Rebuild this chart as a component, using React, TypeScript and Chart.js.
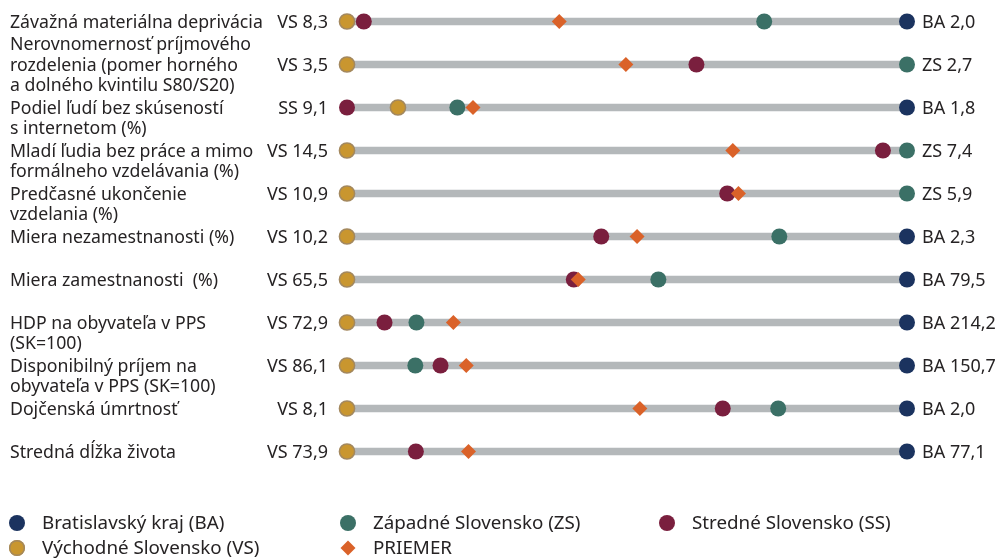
import React, { useEffect, useRef } from "react";
import { Chart, registerables } from "chart.js";

Chart.register(...registerables);

const categories: string[][] = [
  ["Závažná materiálna deprivácia"],
  ["Nerovnomernosť príjmového", "rozdelenia (pomer horného", "a dolného kvintilu S80/S20)"],
  ["Podiel ľudí bez skúseností", "s internetom (%)"],
  ["Mladí ľudia bez práce a mimo", "formálneho vzdelávania (%)"],
  ["Predčasné ukončenie", "vzdelania (%)"],
  ["Miera nezamestnanosti (%)"],
  ["Miera zamestnanosti  (%)"],
  ["HDP na obyvateľa v PPS", "(SK=100)"],
  ["Disponibilný príjem na", "obyvateľa v PPS (SK=100)"],
  ["Dojčenská úmrtnosť"],
  ["Stredná dĺžka života"],
];

const worstLabels = ["VS 8,3", "VS 3,5", "SS 9,1", "VS 14,5", "VS 10,9", "VS 10,2", "VS 65,5", "VS 72,9", "VS 86,1", "VS 8,1", "VS 73,9"];
const bestLabels = ["BA 2,0", "ZS 2,7", "BA 1,8", "ZS 7,4", "ZS 5,9", "BA 2,3", "BA 79,5", "BA 214,2", "BA 150,7", "BA 2,0", "BA 77,1"];

// relative position between worst (0) and best (100) region
const baPos: (number | null)[] = [100, null, 100, null, null, 100, 100, 100, 100, 100, 100];
const zsPos: (number | null)[] = [74.5, 100, 19.7, 100, 100, 77.2, 55.6, 12.4, 12.2, 77.0, null];
const ssPos: (number | null)[] = [3.0, 62.4, 0, 95.7, 67.9, 45.4, 40.5, 6.7, 16.7, 67.1, 12.3];
const vsPos: (number | null)[] = [0, 0, 9.1, 0, 0, 0, 0, 0, 0, 0, 0];
const avgPos: (number | null)[] = [37.9, 49.8, 22.5, 68.9, 69.9, 51.8, 41.3, 19.0, 21.3, 52.3, 21.7];

const legendItems = [
  { label: "Bratislavský kraj (BA)", color: "#1b335f", style: "circle" },
  { label: "Západné Slovensko (ZS)", color: "#3b7066", style: "circle" },
  { label: "Stredné Slovensko (SS)", color: "#7a1f3e", style: "circle" },
  { label: "Východné Slovensko (VS)", color: "#c9962f", style: "circle" },
  { label: "PRIEMER", color: "#da6229", style: "diamond" },
];

const FONT = "'Noto Sans', sans-serif";
const TEXT = "#262324";

const toPts = (arr: (number | null)[]) =>
  arr.map((v, i) => (v === null ? null : { x: v, y: i })).filter((p) => p !== null) as { x: number; y: number }[];

export default function App() {
  const ref = useRef<HTMLCanvasElement | null>(null);
  useEffect(() => {
    if (!ref.current) return;
    const textPlugin = {
      id: "texts",
      afterDraw(chart: any) {
        const ctx = chart.ctx;
        const xs = chart.scales.x;
        const ys = chart.scales.y;
        ctx.save();
        ctx.fillStyle = TEXT;
        ctx.textBaseline = "middle";
        const lh = 20.5;
        categories.forEach((lines, i) => {
          const y = ys.getPixelForValue(i);
          const start = lines.length >= 3 ? y - ((lines.length - 1) / 2) * lh : y;
          ctx.font = `17.7px ${FONT}`;
          ctx.textAlign = "left";
          lines.forEach((l, k) => ctx.fillText(l, 10, start + k * lh + 1));
          ctx.font = `18px ${FONT}`;
          ctx.textAlign = "right";
          ctx.fillText(worstLabels[i], xs.getPixelForValue(0) - 19, y + 1);
          ctx.textAlign = "left";
          ctx.fillText(bestLabels[i], xs.getPixelForValue(100) + 15, y + 1);
        });
        // legend
        const colX = [17, 348, 667];
        const rowY = [523, 548];
        ctx.font = `18.8px ${FONT}`;
        legendItems.forEach((it, k) => {
          const cx = colX[k % 3];
          const cy = rowY[Math.floor(k / 3)];
          ctx.fillStyle = it.color;
          ctx.beginPath();
          if (it.style === "circle") {
            ctx.arc(cx, cy, 8, 0, Math.PI * 2);
          } else {
            ctx.moveTo(cx, cy - 7.5);
            ctx.lineTo(cx + 7.5, cy);
            ctx.lineTo(cx, cy + 7.5);
            ctx.lineTo(cx - 7.5, cy);
            ctx.closePath();
          }
          ctx.fill();
          if (k === 3) {
            ctx.strokeStyle = "#a3885e";
            ctx.lineWidth = 1.5;
            ctx.beginPath();
            ctx.arc(cx, cy, 7.3, 0, Math.PI * 2);
            ctx.stroke();
          }
          ctx.fillStyle = TEXT;
          ctx.textAlign = "left";
          ctx.fillText(it.label, cx + 25, cy + 1);
        });
        ctx.restore();
      },
    };
    const pt = (data: (number | null)[], color: string, order: number, extra: any = {}) => ({
      type: "scatter" as const,
      data: toPts(data),
      backgroundColor: color,
      borderColor: color,
      pointRadius: 8,
      pointHoverRadius: 8,
      pointBorderWidth: 0,
      clip: false,
      order,
      ...extra,
    });
    const chart = new Chart(ref.current, {
      type: "bar",
      data: {
        datasets: [
          pt(avgPos, "#da6229", 0, { pointStyle: "rectRot", pointRadius: 7.5, pointHoverRadius: 7.5 }),
          pt(ssPos, "#7a1f3e", 1),
          pt(baPos, "#1b335f", 2),
          pt(zsPos, "#3b7066", 3),
          pt(vsPos, "#c9962f", 4, { pointBorderWidth: 1.5, borderColor: "#a3885e", pointBorderColor: "#a3885e", pointRadius: 7.6 }),
          {
            type: "bar" as const,
            indexAxis: "y" as const,
            data: categories.map((_, i) => ({ x: [0, 100], y: i })),
            backgroundColor: "#b4b8ba",
            barThickness: 7,
            borderWidth: 0,
            clip: false,
            order: 10,
          } as any,
        ],
      },
      options: {
        animation: false,
        responsive: false,
        layout: { autoPadding: false, padding: { left: 347, right: 90, top: 0, bottom: 86 } },
        plugins: { legend: { display: false }, tooltip: { enabled: false } },
        events: [],
        scales: {
          x: { type: "linear", min: 0, max: 100, offset: false, display: false },
          y: { type: "linear", min: -0.5, max: 10.5, reverse: true, offset: false, display: false },
        },
      },
      plugins: [textPlugin],
    } as any);
    return () => chart.destroy();
  }, []);
  return (
    <div style={{ position: "absolute", left: 0, top: 0, width: 997, height: 559 }}>
      <canvas ref={ref} width={997} height={559} />
    </div>
  );
}
